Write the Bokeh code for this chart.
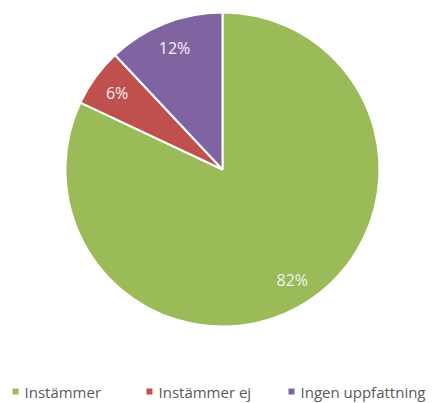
import math
from bokeh.plotting import figure
from bokeh.models import Range1d, ColumnDataSource
from bokeh.embed import file_html
from bokeh.resources import INLINE
from bokeh.core.properties import value

categories = ["Instämmer", "Instämmer ej", "Ingen uppfattning"]
shares = [82, 6, 12]
labels = ["82%", "6%", "12%"]
colors = ["#9BBB59", "#C0504D", "#8064A2"]

W, H = 437, 403
p = figure(width=W, height=H, output_backend="svg", toolbar_location=None,
           x_range=Range1d(0, W), y_range=Range1d(H, 0), min_border=0)
p.axis.visible = False
p.grid.visible = False
p.outline_line_color = None
p.background_fill_color = "white"
p.border_fill_color = "white"

cx, cy, r = 222, 169, 157
total = sum(shares)
starts, ends, lx, ly = [], [], [], []
cum = 0
for s in shares:
    a0 = math.pi / 2 - cum / total * 2 * math.pi
    cum += s
    a1 = math.pi / 2 - cum / total * 2 * math.pi
    starts.append(a0)
    ends.append(a1)
    mid = (a0 + a1) / 2
    lx.append(cx + 0.83 * r * math.cos(mid))
    ly.append(cy - 0.83 * r * math.sin(mid))

src = ColumnDataSource(dict(start=starts, end=ends,
                            color=colors, lx=lx, ly=ly, label=labels))
p.wedge(x=cx, y=cy, radius=r, start_angle="start", end_angle="end", direction="clock",
        fill_color="color", line_color="white", line_width=2, source=src)
p.text(x="lx", y="ly", text="label", source=src, text_color="#F2F2F2",
       text_font=value("Open Sans"), text_font_size="16px",
       text_align="center", text_baseline="middle")

# legend
leg_x = [15, 149, 291]
leg_y = 391
lsrc = ColumnDataSource(dict(x=leg_x, tx=[x + 9 for x in leg_x], y=[leg_y] * 3,
                             color=colors, cat=categories))
p.scatter(x="x", y="y", source=lsrc, marker="square", size=6, fill_color="color", line_color=None)
p.text(x="tx", y="y", text="cat", source=lsrc, text_color="#595959",
       text_font=value("Open Sans"), text_font_size="15px",
       text_align="left", text_baseline="middle")

open("out.html", "w").write(file_html(p, INLINE))
